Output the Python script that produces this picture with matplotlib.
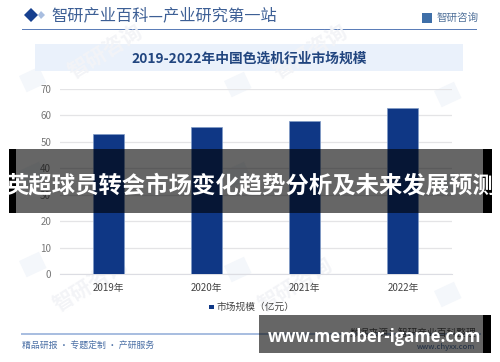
import matplotlib
matplotlib.use("Agg")
import matplotlib.pyplot as plt
from matplotlib.patches import Rectangle, Polygon

plt.rcParams['font.family'] = ['Noto Sans CJK SC', 'DejaVu Sans']

years = ['2019年', '2020年', '2021年', '2022年']
market_size = [53, 55.5, 58, 63]
y_ticks = [0, 10, 20, 30, 40, 50, 60, 70]
chart_title = '2019-2022年中国色选机行业市场规模'
header = '智研产业百科—产业研究第一站'
brand = '智研咨询'
legend_label = '市场规模（亿元）'
footer_left = '精品研报 · 专题定制 · 产研服务'
footer_right = '数据来源：智研产业百科整理'
footer_url = 'www.chyxx.com'
banner = '英超球员转会市场变化趋势分析及未来发展预测'
site = 'www.member-igame.com'

W, H = 500, 362
NAVY = '#0F3785'
fig = plt.figure(figsize=(W / 100, H / 100), dpi=100, facecolor='white')


def pixel_axes(z):
    a = fig.add_axes([0, 0, 1, 1], zorder=z)
    a.set_xlim(0, W)
    a.set_ylim(H, 0)
    a.axis('off')
    a.patch.set_alpha(0)
    return a


bg = pixel_axes(0)
# faint watermarks
for x, y in [(105, 52), (310, 52), (90, 285), (295, 285)]:
    bg.text(x, y, brand, fontsize=15, color='#F3F4F7', rotation=32,
            ha='center', va='center', weight='bold')
for x, y in [(30, 85), (30, 270), (235, 90), (235, 275), (445, 100), (445, 300), (30, 180), (235, 180), (445, 190)]:
    bg.add_patch(Rectangle((x - 11, y - 9), 22, 18, angle=-25, color='#F4F7FB', lw=0))

# header
bg.add_patch(Polygon([(24, 15), (31, 8), (38, 15), (31, 22)], color='#17408F', lw=0))
bg.add_patch(Polygon([(38, 15), (41, 11), (45, 15), (41, 19)], color='#A9BEE0', lw=0))
bg.text(51, 15.5, header, fontsize=11.7, color='#3D5F95', va='center', ha='left', weight='medium')
bg.add_patch(Rectangle((22, 28.6), 455, 1, color='#5B7DB8', lw=0))
bg.add_patch(Rectangle((422, 13), 10, 10, color='#3F6FA8', lw=0))
bg.text(437, 18, brand, fontsize=7.6, color='#4F7099', va='center', ha='left')

# chart title band
bg.add_patch(Rectangle((35, 44), 428, 27, color='#EAF1FB', lw=0))
bg.text(249, 59, chart_title, fontsize=9.9, color='#21457F', va='center', ha='center', weight='bold')

# footer
bg.add_patch(Rectangle((21, 333), 460, 2, color='#A9BEE0', lw=0))
bg.text(22, 345, footer_left, fontsize=6.4, color='#4A6FA5', va='center', ha='left')
bg.text(476, 333, footer_right, fontsize=7, color='#555555', va='center', ha='right')
bg.text(475, 347, footer_url, fontsize=5.5, color='#4A6FA5', va='center', ha='right')

# chart
left, right, top, bottom = 59.5, 452, 89, 274.3
ax = fig.add_axes([left / W, 1 - bottom / H, (right - left) / W, (bottom - top) / H], zorder=1)
ax.patch.set_alpha(0)
ax.bar(years, market_size, width=0.315, color=NAVY, edgecolor='#7F9AC6', linewidth=0.5, zorder=3)
ax.set_ylim(0, 70)
ax.set_xlim(-0.5, 3.5)
ax.set_yticks(y_ticks)
ax.grid(axis='y', color='#E4E4E6', linewidth=0.9, zorder=0)
ax.tick_params(length=0)
ax.tick_params(axis='y', labelsize=7, labelcolor='#777777', pad=6)
ax.tick_params(axis='x', labelsize=7, labelcolor='#444444', pad=6)
for s in ['top', 'right', 'left']:
    ax.spines[s].set_visible(False)
ax.spines['bottom'].set_color('#DCDDE3')

# legend
bg.add_patch(Rectangle((209, 305), 4.5, 4, color=NAVY, lw=0))
bg.text(216.5, 306.5, legend_label, fontsize=7, color='#444444', va='center', ha='left')

# overlays
ov = pixel_axes(5)
ov.add_patch(Rectangle((9, 149), 7, 63.7, color='black', lw=0))
ov.add_patch(Rectangle((483, 149), 9, 63.7, color='black', lw=0))
ov.add_patch(Rectangle((16, 149), 467, 63.7, color='black', alpha=0.6, lw=0))
ov.text(250.5, 185, banner, fontsize=16.8, color='white', va='center', ha='center', weight='bold')

ov.add_patch(Rectangle((259, 315), 224, 37.7, color='black', alpha=0.6, lw=0))
ov.add_patch(Rectangle((483, 315), 8, 37.7, color='black', lw=0))
ov.text(374.5, 337, site, fontsize=12, color='white', va='center', ha='center',
        weight='bold', family='Open Sans')

fig.savefig('out.png', dpi=100, facecolor='white')
